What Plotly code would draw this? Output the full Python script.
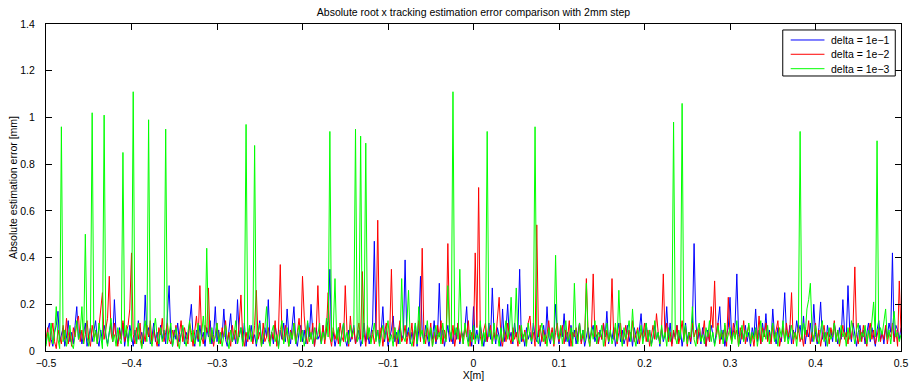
import numpy as np
import plotly.graph_objects as go

# x positions: -0.5 .. 0.5 with 2 mm step (501 samples)
x_start, x_stop, x_step = -0.5, 0.5, 0.002
x_vals = np.round(np.arange(x_start, x_stop + x_step / 2, x_step), 3)

series_names = ["delta = 1e\u22121", "delta = 1e\u22122", "delta = 1e\u22123"]
series_colors = ["#0000FF", "#FF0000", "#00FF00"]

err_delta_1e1 = [
    0.03,0.09,0.12,0.05,0.02,0.08,0.11,0.17,0.04,0.07,
    0.10,0.02,0.06,0.13,0.04,0.08,0.03,0.11,0.19,0.05,
    0.09,0.03,0.07,0.12,0.02,0.06,0.10,0.04,0.08,0.13,
    0.05,0.02,0.09,0.04,0.11,0.06,0.03,0.08,0.12,0.04,
    0.22,0.07,0.03,0.10,0.05,0.12,0.02,0.08,0.04,0.11,
    0.06,0.02,0.09,0.04,0.13,0.05,0.08,0.03,0.24,0.07,
    0.10,0.03,0.06,0.12,0.04,0.08,0.02,0.11,0.05,0.09,
    0.03,0.14,0.28,0.06,0.02,0.09,0.05,0.12,0.04,0.07,
    0.10,0.03,0.08,0.05,0.12,0.20,0.06,0.02,0.09,0.04,
    0.11,0.05,0.08,0.02,0.10,0.06,0.13,0.03,0.07,0.19,
    0.04,0.09,0.03,0.06,0.18,0.05,0.02,0.08,0.16,0.04,
    0.07,0.03,0.22,0.06,0.10,0.04,0.12,0.02,0.08,0.05,
    0.11,0.04,0.07,0.02,0.09,0.13,0.05,0.03,0.10,0.06,
    0.22,0.04,0.08,0.03,0.11,0.06,0.02,0.09,0.05,0.12,
    0.04,0.18,0.07,0.03,0.10,0.19,0.05,0.02,0.08,0.11,
    0.04,0.09,0.03,0.12,0.06,0.20,0.08,0.02,0.10,0.05,
    0.07,0.03,0.11,0.05,0.09,0.13,0.35,0.04,0.08,0.02,
    0.06,0.10,0.03,0.08,0.12,0.05,0.02,0.09,0.04,0.07,
    0.11,0.03,0.06,0.09,0.02,0.05,0.12,0.04,0.08,0.03,
    0.07,0.12,0.47,0.05,0.09,0.03,0.08,0.19,0.04,0.10,
    0.02,0.06,0.09,0.15,0.04,0.08,0.03,0.11,0.05,0.07,
    0.39,0.06,0.10,0.03,0.08,0.05,0.12,0.02,0.09,0.32,
    0.08,0.04,0.11,0.06,0.02,0.09,0.05,0.13,0.03,0.07,
    0.29,0.05,0.09,0.02,0.07,0.11,0.04,0.08,0.03,0.10,
    0.05,0.12,0.03,0.08,0.06,0.10,0.19,0.04,0.07,0.02,
    0.19,0.05,0.09,0.03,0.11,0.06,0.02,0.08,0.04,0.12,
    0.05,0.27,0.08,0.03,0.10,0.06,0.02,0.18,0.04,0.09,
    0.20,0.05,0.08,0.03,0.12,0.06,0.09,0.35,0.04,0.07,
    0.02,0.10,0.05,0.08,0.03,0.12,0.06,0.04,0.09,0.02,
    0.07,0.11,0.04,0.19,0.06,0.03,0.09,0.05,0.20,0.08,
    0.03,0.10,0.06,0.16,0.04,0.08,0.02,0.11,0.05,0.09,
    0.03,0.07,0.12,0.04,0.09,0.02,0.06,0.10,0.05,0.08,
    0.11,0.04,0.07,0.03,0.09,0.05,0.12,0.06,0.17,0.03,
    0.08,0.05,0.10,0.02,0.07,0.12,0.04,0.09,0.03,0.06,
    0.11,0.04,0.08,0.02,0.10,0.06,0.03,0.09,0.16,0.05,
    0.07,0.12,0.04,0.09,0.03,0.06,0.11,0.05,0.08,0.02,
    0.10,0.04,0.07,0.19,0.05,0.12,0.03,0.08,0.06,0.11,
    0.04,0.09,0.02,0.07,0.12,0.05,0.08,0.03,0.10,0.46,
    0.12,0.05,0.08,0.03,0.10,0.06,0.02,0.09,0.04,0.11,
    0.06,0.03,0.08,0.12,0.19,0.05,0.09,0.02,0.07,0.10,
    0.23,0.05,0.08,0.12,0.33,0.07,0.03,0.09,0.05,0.11,
    0.04,0.08,0.02,0.10,0.06,0.18,0.04,0.09,0.03,0.12,
    0.06,0.16,0.05,0.09,0.04,0.18,0.07,0.03,0.10,0.06,
    0.04,0.12,0.25,0.08,0.05,0.11,0.03,0.09,0.06,0.13,
    0.08,0.11,0.05,0.15,0.03,0.09,0.06,0.12,0.04,0.20,
    0.07,0.03,0.10,0.21,0.05,0.08,0.02,0.11,0.06,0.09,
    0.04,0.12,0.07,0.03,0.10,0.05,0.22,0.08,0.06,0.28,
    0.09,0.04,0.12,0.06,0.02,0.08,0.11,0.05,0.09,0.03,
    0.07,0.12,0.04,0.10,0.06,0.02,0.09,0.13,0.05,0.08,
    0.03,0.10,0.06,0.12,0.08,0.42,0.04,0.11,0.09,0.05,
    0.10,
]

err_delta_1e2 = [
    0.05,0.10,0.02,0.07,0.12,0.04,0.01,0.09,0.06,0.03,
    0.11,0.05,0.14,0.03,0.08,0.02,0.10,0.06,0.12,0.15,
    0.04,0.09,0.03,0.07,0.13,0.05,0.02,0.11,0.06,0.08,
    0.03,0.10,0.16,0.25,0.05,0.09,0.14,0.32,0.08,0.04,
    0.12,0.06,0.02,0.09,0.05,0.13,0.04,0.08,0.11,0.18,
    0.42,0.07,0.03,0.10,0.05,0.12,0.02,0.08,0.04,0.11,
    0.06,0.13,0.03,0.09,0.05,0.02,0.10,0.07,0.14,0.04,
    0.08,0.12,0.05,0.03,0.09,0.06,0.11,0.02,0.07,0.13,
    0.04,0.10,0.06,0.03,0.12,0.08,0.02,0.09,0.15,0.05,
    0.28,0.06,0.03,0.11,0.08,0.27,0.04,0.09,0.02,0.07,
    0.12,0.05,0.03,0.10,0.06,0.13,0.04,0.08,0.02,0.11,
    0.05,0.09,0.03,0.12,0.24,0.06,0.02,0.08,0.04,0.10,
    0.07,0.03,0.11,0.26,0.05,0.08,0.02,0.12,0.04,0.06,
    0.10,0.03,0.08,0.05,0.13,0.02,0.09,0.37,0.06,0.04,
    0.11,0.07,0.02,0.09,0.05,0.12,0.03,0.08,0.14,0.04,
    0.32,0.15,0.06,0.03,0.10,0.05,0.12,0.02,0.08,0.28,
    0.07,0.04,0.11,0.03,0.09,0.25,0.06,0.02,0.10,0.05,
    0.08,0.03,0.12,0.06,0.04,0.28,0.09,0.02,0.15,0.05,
    0.10,0.03,0.07,0.12,0.05,0.34,0.08,0.02,0.11,0.06,
    0.04,0.09,0.03,0.07,0.56,0.05,0.10,0.02,0.08,0.12,
    0.04,0.07,0.35,0.05,0.10,0.02,0.08,0.13,0.04,0.06,
    0.11,0.03,0.08,0.05,0.12,0.02,0.09,0.06,0.13,0.04,
    0.44,0.07,0.03,0.10,0.05,0.12,0.02,0.08,0.04,0.11,
    0.06,0.13,0.03,0.09,0.05,0.46,0.08,0.04,0.11,0.02,
    0.07,0.12,0.04,0.09,0.03,0.10,0.06,0.13,0.02,0.08,
    0.05,0.42,0.10,0.70,0.06,0.03,0.09,0.12,0.04,0.07,
    0.11,0.03,0.08,0.05,0.13,0.23,0.06,0.02,0.09,0.04,
    0.12,0.06,0.03,0.10,0.05,0.08,0.02,0.11,0.07,0.04,
    0.09,0.03,0.12,0.15,0.05,0.08,0.02,0.54,0.06,0.11,
    0.04,0.09,0.03,0.07,0.13,0.05,0.10,0.02,0.08,0.12,
    0.04,0.07,0.11,0.03,0.09,0.05,0.13,0.02,0.08,0.06,
    0.10,0.04,0.12,0.03,0.07,0.05,0.31,0.08,0.02,0.09,
    0.33,0.06,0.11,0.03,0.08,0.05,0.12,0.02,0.09,0.04,
    0.07,0.31,0.05,0.10,0.03,0.08,0.12,0.04,0.06,0.11,
    0.02,0.09,0.05,0.13,0.04,0.07,0.10,0.03,0.08,0.06,
    0.12,0.04,0.09,0.02,0.07,0.11,0.05,0.16,0.08,0.03,
    0.10,0.33,0.06,0.12,0.04,0.08,0.02,0.09,0.05,0.11,
    0.03,0.07,0.13,0.05,0.10,0.02,0.08,0.04,0.12,0.06,
    0.09,0.03,0.11,0.05,0.07,0.13,0.02,0.08,0.04,0.19,
    0.10,0.30,0.06,0.12,0.03,0.08,0.05,0.11,0.02,0.23,
    0.07,0.04,0.12,0.06,0.09,0.02,0.10,0.05,0.13,0.03,
    0.08,0.11,0.04,0.07,0.02,0.09,0.05,0.15,0.03,0.10,
    0.06,0.12,0.04,0.08,0.03,0.11,0.05,0.09,0.13,0.02,
    0.07,0.10,0.04,0.12,0.06,0.09,0.25,0.03,0.08,0.05,
    0.11,0.04,0.07,0.02,0.10,0.06,0.13,0.03,0.08,0.05,
    0.12,0.04,0.09,0.02,0.07,0.11,0.05,0.08,0.03,0.10,
    0.06,0.13,0.04,0.09,0.02,0.07,0.11,0.05,0.08,0.03,
    0.10,0.05,0.12,0.36,0.07,0.03,0.09,0.04,0.11,0.06,
    0.02,0.08,0.12,0.05,0.09,0.03,0.07,0.10,0.04,0.08,
    0.05,0.11,0.03,0.08,0.06,0.12,0.04,0.09,0.02,0.30,
    0.08,
]

err_delta_1e3 = [
    0.02,0.08,0.04,0.12,0.03,0.07,0.19,0.05,0.01,0.96,
    0.04,0.09,0.02,0.06,0.11,0.03,0.01,0.07,0.13,0.05,
    0.08,0.19,0.03,0.50,0.06,0.02,0.10,1.02,0.04,0.09,
    0.03,0.12,0.05,0.01,1.01,0.06,0.02,0.08,0.14,0.04,
    0.07,0.02,0.10,0.05,0.03,0.85,0.06,0.11,0.02,0.09,
    0.04,1.11,0.07,0.03,0.12,0.05,0.01,0.08,0.13,0.04,
    0.99,0.05,0.02,0.09,0.14,0.06,0.03,0.10,0.04,0.07,
    0.95,0.03,0.08,0.12,0.02,0.06,0.10,0.04,0.01,0.07,
    0.11,0.05,0.02,0.08,0.13,0.04,0.09,0.03,0.06,0.12,
    0.02,0.07,0.15,0.05,0.44,0.08,0.03,0.10,0.04,0.06,
    0.12,0.03,0.08,0.02,0.06,0.11,0.05,0.01,0.09,0.04,
    0.07,0.13,0.03,0.06,0.10,0.02,0.08,0.97,0.05,0.11,
    0.04,0.09,0.88,0.03,0.07,0.12,0.02,0.06,0.10,0.19,
    0.05,0.02,0.08,0.11,0.04,0.07,0.01,0.09,0.13,0.03,
    0.06,0.10,0.02,0.08,0.05,0.12,0.03,0.07,0.11,0.04,
    0.09,0.02,0.06,0.13,0.04,0.08,0.03,0.10,0.05,0.07,
    0.12,0.03,0.08,0.05,0.14,0.06,0.94,0.04,0.09,0.31,
    0.05,0.10,0.02,0.07,0.12,0.04,0.08,0.03,0.11,0.06,
    0.09,0.95,0.04,0.06,0.92,0.03,0.08,0.89,0.05,0.10,
    0.03,0.07,0.12,0.04,0.09,0.02,0.06,0.11,0.05,0.08,
    0.13,0.04,0.07,0.02,0.10,0.05,0.09,0.03,0.31,0.06,
    0.04,0.11,0.26,0.05,0.02,0.08,0.12,0.03,0.19,0.06,
    0.09,0.03,0.07,0.13,0.04,0.10,0.02,0.06,0.11,0.05,
    0.08,0.03,0.12,0.06,0.04,0.28,0.09,0.05,1.11,0.07,
    0.10,0.05,0.35,0.08,0.03,0.12,0.06,0.02,0.09,0.04,
    0.11,0.03,0.07,0.05,0.13,0.02,0.08,0.04,0.94,0.06,
    0.09,0.03,0.12,0.05,0.07,0.02,0.10,0.04,0.08,0.13,
    0.05,0.09,0.23,0.04,0.08,0.27,0.06,0.03,0.11,0.05,
    0.08,0.02,0.12,0.06,0.04,0.10,0.96,0.05,0.03,0.09,
    0.12,0.04,0.07,0.02,0.10,0.05,0.08,0.03,0.41,0.07,
    0.05,0.11,0.03,0.08,0.13,0.04,0.06,0.10,0.02,0.29,
    0.07,0.03,0.12,0.05,0.09,0.04,0.29,0.06,0.02,0.10,
    0.05,0.13,0.03,0.08,0.06,0.11,0.02,0.07,0.12,0.04,
    0.09,0.03,0.06,0.12,0.04,0.26,0.07,0.02,0.10,0.05,
    0.08,0.13,0.04,0.18,0.06,0.02,0.09,0.05,0.11,0.03,
    0.07,0.12,0.04,0.09,0.02,0.06,0.13,0.05,0.08,0.03,
    0.11,0.05,0.08,0.02,0.10,0.04,0.07,0.98,0.06,0.03,
    0.09,0.05,1.06,0.04,0.11,0.03,0.08,0.06,0.19,0.05,
    0.02,0.09,0.12,0.04,0.07,0.03,0.10,0.06,0.13,0.04,
    0.08,0.02,0.06,0.11,0.05,0.09,0.03,0.12,0.04,0.07,
    0.10,0.03,0.08,0.05,0.13,0.02,0.07,0.11,0.04,0.09,
    0.06,0.12,0.03,0.08,0.05,0.10,0.02,0.07,0.13,0.04,
    0.09,0.05,0.11,0.03,0.07,0.12,0.04,0.08,0.02,0.10,
    0.06,0.13,0.04,0.09,0.03,0.07,0.11,0.05,0.08,0.02,
    0.10,0.94,0.05,0.12,0.07,0.18,0.22,0.29,0.08,0.04,
    0.11,0.06,0.03,0.09,0.13,0.04,0.08,0.02,0.10,0.05,
    0.07,0.12,0.04,0.09,0.03,0.11,0.06,0.08,0.02,0.10,
    0.05,0.13,0.07,0.03,0.09,0.12,0.04,0.08,0.06,0.11,
    0.03,0.09,0.05,0.12,0.21,0.06,0.90,0.04,0.10,0.07,
    0.12,0.18,0.05,0.09,0.03,0.11,0.17,0.06,0.08,0.04,
    0.07,
]

x_tick_vals = [-0.5, -0.4, -0.3, -0.2, -0.1, 0, 0.1, 0.2, 0.3, 0.4, 0.5]
x_tick_text = ["\u22120.5", "\u22120.4", "\u22120.3", "\u22120.2", "\u22120.1", "0",
               "0.1", "0.2", "0.3", "0.4", "0.5"]
y_tick_vals = [0, 0.2, 0.4, 0.6, 0.8, 1, 1.2, 1.4]
y_tick_text = ["0", "0.2", "0.4", "0.6", "0.8", "1", "1.2", "1.4"]

FONT = "Liberation Sans, Arial, sans-serif"
FS = 10.5

fig = go.Figure()
for name, color, ys in zip(series_names, series_colors,
                           [err_delta_1e1, err_delta_1e2, err_delta_1e3]):
    fig.add_trace(go.Scatter(x=x_vals, y=ys, mode="lines", name=name,
                             line=dict(color=color, width=1), showlegend=False))

axis_common = dict(showline=True, linecolor="black", linewidth=1, mirror="allticks",
                   ticks="inside", ticklen=6, tickcolor="black", showgrid=False,
                   zeroline=False, automargin=False,
                   tickfont=dict(family=FONT, size=FS, color="black"))

# legend box (MATLAB style), placed in plot-area paper coordinates
leg_x0, leg_x1, leg_y0, leg_y1 = 0.8617, 0.9933, 0.841, 0.9817
leg_line_x0, leg_line_x1, leg_text_x = 0.871, 0.9105, 0.9154
leg_rows = [0.9511, 0.9074, 0.8633]

shapes = [dict(type="rect", xref="paper", yref="paper", x0=leg_x0, x1=leg_x1,
               y0=leg_y0, y1=leg_y1, line=dict(color="black", width=1),
               fillcolor="white", layer="above")]
annotations = []
for name, color, yy in zip(series_names, series_colors, leg_rows):
    shapes.append(dict(type="line", xref="paper", yref="paper", x0=leg_line_x0,
                       x1=leg_line_x1, y0=yy, y1=yy, line=dict(color=color, width=1),
                       layer="above"))
    annotations.append(dict(xref="paper", yref="paper", x=leg_text_x, y=yy,
                            xanchor="left", yanchor="middle", text=name, showarrow=False,
                            font=dict(family=FONT, size=FS, color="black")))

fig.update_layout(
    width=911, height=385,
    margin=dict(l=46, r=10, t=24, b=34),
    paper_bgcolor="white", plot_bgcolor="white",
    font=dict(family=FONT, size=FS, color="black"),
    title=dict(text="Absolute root x tracking estimation error comparison with 2mm step",
               x=0.5, xref="paper", y=1 - 12 / 385, yanchor="middle",
               font=dict(family=FONT, size=FS, color="black")),
    xaxis=dict(range=[-0.5, 0.5], tickvals=x_tick_vals, ticktext=x_tick_text,
               ticklabelstandoff=2,
               title=dict(text="X[m]", standoff=2, font=dict(family=FONT, size=FS)),
               **axis_common),
    yaxis=dict(range=[0, 1.4], tickvals=y_tick_vals, ticktext=y_tick_text,
               ticklabelstandoff=8,
               title=dict(text="Absolute estimation error [mm]", standoff=0,
                          font=dict(family=FONT, size=FS)),
               **axis_common),
    shapes=shapes,
    annotations=annotations,
    showlegend=False,
    hovermode=False,
)

fig.write_html("out.html",
               config={"displayModeBar": False, "staticPlot": True},
               post_script="document.body.style.margin='0';"
                           "document.body.style.overflow='hidden';")
